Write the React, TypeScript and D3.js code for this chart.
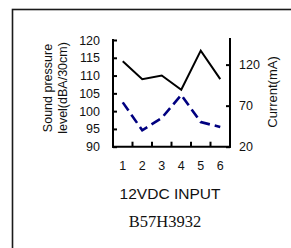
import React, { useEffect, useRef } from "react";
import * as d3 from "d3";

// data
const inputs = ["1", "2", "3", "4", "5", "6"];
const soundLevel = [114, 109, 110, 106, 117, 109]; // dBA/30cm, left axis
const current = [74, 40, 55, 83, 50, 44]; // mA, right axis
const leftTicks = [90, 95, 100, 105, 110, 115, 120];
const rightTicks = [20, 70, 120];

const App = () => {
  const svgRef = useRef<SVGSVGElement>(null);

  useEffect(() => {
    const svg = d3.select(svgRef.current);
    svg.selectAll("*").remove();

    const width = 291;
    const height = 248;
    const plot = { left: 113, right: 230, top: 40, bottom: 146.7 };

    svg.attr("width", width).attr("height", height);

    // outer frame (runs off the right and bottom edges)
    svg
      .append("rect")
      .attr("x", 12.5)
      .attr("y", 9.5)
      .attr("width", 400)
      .attr("height", 400)
      .attr("fill", "none")
      .attr("stroke", "#1a1a1a")
      .attr("stroke-width", 1.6);

    const x = d3.scaleBand().domain(inputs).range([plot.left, plot.right]);
    const yLeft = d3.scaleLinear().domain([90, 120]).range([plot.bottom, plot.top]);
    const yRight = d3.scaleLinear().domain([20, 150]).range([plot.bottom, plot.top]);

    const font = "Arial, 'Liberation Sans', sans-serif";

    // left axis
    const gl = svg
      .append("g")
      .attr("transform", `translate(${plot.left},0)`)
      .call(d3.axisLeft(yLeft).tickValues(leftTicks).tickSizeInner(-4).tickSizeOuter(0).tickPadding(13));
    // right axis
    const gr = svg
      .append("g")
      .attr("transform", `translate(${plot.right},0)`)
      .call(d3.axisRight(yRight).tickValues(rightTicks).tickSizeInner(-4).tickSizeOuter(0).tickPadding(9));
    // bottom axis, ticks between the categories
    const gb = svg
      .append("g")
      .attr("transform", `translate(0,${plot.bottom})`)
      .call(d3.axisBottom(x).tickSize(0).tickPadding(14.5));

    [gl, gr, gb].forEach((g) => {
      g.select(".domain").attr("stroke", "#000").attr("stroke-width", 2);
      g.selectAll(".tick line").attr("stroke", "#000").attr("stroke-width", 2);
      g.selectAll(".tick text")
        .attr("fill", "#111")
        .style("font-family", font)
        .style("font-size", "12.5px");
    });
    gl.select(".domain").attr("d", `M0,${plot.top - 1}V${plot.bottom + 1}`);
    gr.select(".domain").attr("d", `M0,${plot.top - 2}V${plot.bottom + 1}`);
    gb.select(".domain").attr("d", `M${plot.left - 1},0H${plot.right + 1}`);

    gb.append("g")
      .selectAll("line")
      .data(inputs.slice(1))
      .join("line")
      .attr("x1", (d) => x(d)!)
      .attr("x2", (d) => x(d)!)
      .attr("y1", 0)
      .attr("y2", -5)
      .attr("stroke", "#000")
      .attr("stroke-width", 2);

    const cx = (_: number, i: number) => x(inputs[i])! + x.bandwidth() / 2;

    // sound pressure line
    svg
      .append("path")
      .datum(soundLevel)
      .attr(
        "d",
        d3
          .line<number>()
          .x(cx)
          .y((d) => yLeft(d))
      )
      .attr("fill", "none")
      .attr("stroke", "#000")
      .attr("stroke-width", 2);

    // current line
    svg
      .append("path")
      .datum(current)
      .attr(
        "d",
        d3
          .line<number>()
          .x(cx)
          .y((d) => yRight(d))
      )
      .attr("fill", "none")
      .attr("stroke", "#000080")
      .attr("stroke-width", 2.6)
      .attr("stroke-dasharray", "10,5");

    // axis titles
    const leftTitle = svg
      .append("text")
      .attr("transform", "translate(0,88) rotate(-90)")
      .attr("text-anchor", "middle")
      .attr("fill", "#111")
      .style("font-family", font)
      .style("font-size", "12.5px");
    leftTitle.append("tspan").attr("x", 0).attr("y", 52).text("Sound pressure");
    leftTitle.append("tspan").attr("x", 0).attr("y", 67).text("level(dBA/30cm)");

    svg
      .append("text")
      .attr("transform", "translate(277,92) rotate(-90)")
      .attr("text-anchor", "middle")
      .attr("fill", "#111")
      .style("font-family", font)
      .style("font-size", "13px")
      .text("Current(mA)");

    svg
      .append("text")
      .attr("x", 170)
      .attr("y", 199)
      .attr("text-anchor", "middle")
      .attr("fill", "#111")
      .style("font-family", font)
      .style("font-size", "15.5px")
      .text("12VDC INPUT");

    svg
      .append("text")
      .attr("x", 165)
      .attr("y", 226.5)
      .attr("text-anchor", "middle")
      .attr("fill", "#111")
      .style("font-family", "'Times New Roman', 'Liberation Serif', serif")
      .style("font-size", "16.5px")
      .text("B57H3932");
  }, []);

  return (
    <div style={{ position: "absolute", left: 0, top: 0, width: 291, height: 248 }}>
      <svg ref={svgRef} style={{ display: "block" }}></svg>
    </div>
  );
};

export default App;
